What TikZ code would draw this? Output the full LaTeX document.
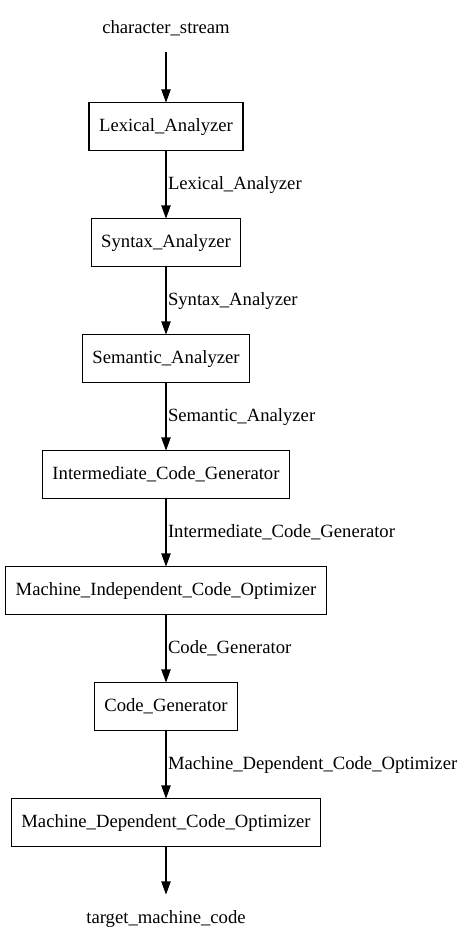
\documentclass[tikz,border=0pt]{standalone}
\usepackage{fontspec}
\setmainfont{Liberation Serif}
\usetikzlibrary{arrows.meta,positioning}

\begin{document}
\begin{tikzpicture}[
  font=\fontsize{14}{16}\selectfont,
  phase/.style={rectangle, draw, line width=1pt, minimum height=36pt,
                inner xsep=7.5pt, outer sep=0pt},
  io/.style={minimum height=36pt, outer sep=0pt},
  arr/.style={-{Triangle[length=10pt,width=7pt]}, line width=1pt},
  lbl/.style={right, inner sep=1pt}
]
  \useasboundingbox (0,0) rectangle (344.25pt,-711.75pt);
  \node[io] (cs) at (124.5pt,-21pt) {character\_stream};
  \node[phase, below=38pt of cs] (lex) {Lexical\_Analyzer};
  \node[phase, below=51pt of lex] (syn) {Syntax\_Analyzer};
  \node[phase, below=51pt of syn] (sem) {Semantic\_Analyzer};
  \node[phase, below=51pt of sem] (icg) {Intermediate\_Code\_Generator};
  \node[phase, below=51pt of icg] (mico) {Machine\_Independent\_Code\_Optimizer};
  \node[phase, below=51pt of mico] (cg) {Code\_Generator};
  \node[phase, below=51pt of cg] (mdco) {Machine\_Dependent\_Code\_Optimizer};
  \node[io, below=36pt of mdco] (tmc) {target\_machine\_code};
  \draw[arr] (cs) -- (lex);
  \draw[arr] (lex) -- node[lbl] (l1) {Lexical\_Analyzer} (syn);
  \draw[arr] (syn) -- node[lbl] (l2) {Syntax\_Analyzer} (sem);
  \draw[arr] (sem) -- node[lbl] (l3) {Semantic\_Analyzer} (icg);
  \draw[arr] (icg) -- node[lbl] (l4) {Intermediate\_Code\_Generator} (mico);
  \draw[arr] (mico) -- node[lbl] (l5) {Code\_Generator} (cg);
  \draw[arr] (cg) -- node[lbl] (l6) {Machine\_Dependent\_Code\_Optimizer} (mdco);
  \draw[arr] (mdco) -- (tmc);
\end{tikzpicture}
\end{document}
